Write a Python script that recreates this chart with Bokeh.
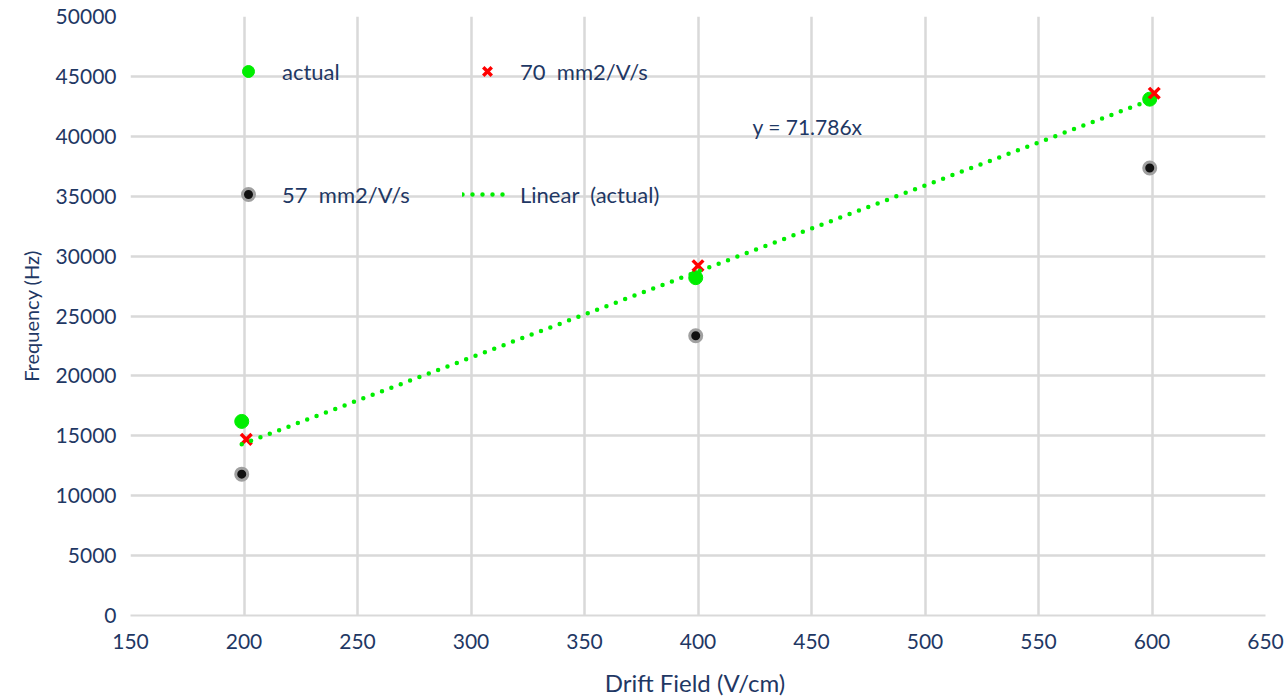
from bokeh.plotting import figure
from bokeh.models import Legend, LegendItem, Label, Range1d, SingleIntervalTicker
from bokeh.embed import file_html
from bokeh.resources import INLINE

# ---- data ----
field_actual = [199, 399, 599]
freq_actual = [16200, 28200, 43100]
field_70 = [201, 400, 601]
freq_70 = [14700, 29200, 43600]
field_57 = [199, 399, 599]
freq_57 = [11800, 23350, 37350]
slope = 71.786
fit_x = [199, 599]
fit_y = [slope * x for x in fit_x]

NAVY = "#1F3864"
GREEN = "#00EE00"
FONT = "Lato"

p = figure(width=1284, height=700, output_backend="svg", toolbar_location=None,
           x_range=Range1d(150, 650), y_range=Range1d(0, 50000),
           min_border_left=130, min_border_right=19, min_border_top=16, min_border_bottom=85)
p.outline_line_color = None

p.xaxis.ticker = SingleIntervalTicker(interval=50)
p.yaxis.ticker = SingleIntervalTicker(interval=5000)
for ax in (p.xaxis, p.yaxis):
    ax.major_tick_line_color = None
    ax.minor_tick_line_color = None
    ax.major_label_text_font = FONT
    ax.major_label_text_font_size = "21px"
    ax.major_label_text_color = NAVY
    ax.axis_label_text_font = FONT
    ax.axis_label_text_font_style = "normal"
    ax.axis_label_text_color = NAVY
p.xaxis.axis_label_text_font_size = "24px"
p.yaxis.axis_label_text_font_size = "20px"
p.xaxis.axis_line_color = "#D9D9D9"
p.xaxis.axis_line_width = 2
p.yaxis.axis_line_color = None
p.xaxis.major_label_standoff = 12
p.yaxis.major_label_standoff = 8
p.xaxis.axis_label = "Drift  Field (V/cm)"
p.yaxis.axis_label = "Frequency (Hz)"
p.xaxis.axis_label_standoff = 16
p.yaxis.axis_label_standoff = 10

for g in (p.xgrid, p.ygrid):
    g.grid_line_color = "#D9D9D9"
    g.grid_line_width = 2.5

r_act = p.scatter(field_actual, freq_actual, marker="circle", size=14,
                  fill_color=GREEN, line_color=GREEN)
r_57 = p.scatter(field_57, freq_57, marker="circle", size=12,
                 fill_color="#111111", line_color="#A0A0A0", line_width=3)
r_70 = p.scatter(field_70, freq_70, marker="x", size=15,
                 line_color="#FF0000", line_width=3.5)
r_fit = p.line(fit_x, fit_y, line_color=GREEN, line_width=4.5,
               line_dash="0 10", line_cap="round")

leg_a = Legend(items=[LegendItem(label="actual", renderers=[r_act]),
                      LegendItem(label="57  mm2/V/s", renderers=[r_57])],
               location=(103, 406), orientation="vertical",
               glyph_width=30, glyph_height=30, label_height=30,
               label_standoff=19, spacing=93, padding=0, margin=0)
leg_b = Legend(items=[LegendItem(label="70  mm2/V/s", renderers=[r_70]),
                      LegendItem(label="Linear  (actual)", renderers=[r_fit])],
               location=(332, 406), orientation="vertical",
               glyph_width=50, glyph_height=30, label_height=30,
               label_standoff=8, spacing=93, padding=0, margin=0)
for lg in (leg_a, leg_b):
    lg.background_fill_alpha = 0
    lg.border_line_color = None
    lg.label_text_font = FONT
    lg.label_text_font_size = "22px"
    lg.label_text_color = NAVY
    lg.click_policy = "none"
    p.add_layout(lg)

p.add_layout(Label(x=424, y=40800, text="y = 71.786x", text_font=FONT,
                   text_font_size="21px", text_color=NAVY, text_baseline="middle"))

open("out.html", "w").write(file_html(p, INLINE))
